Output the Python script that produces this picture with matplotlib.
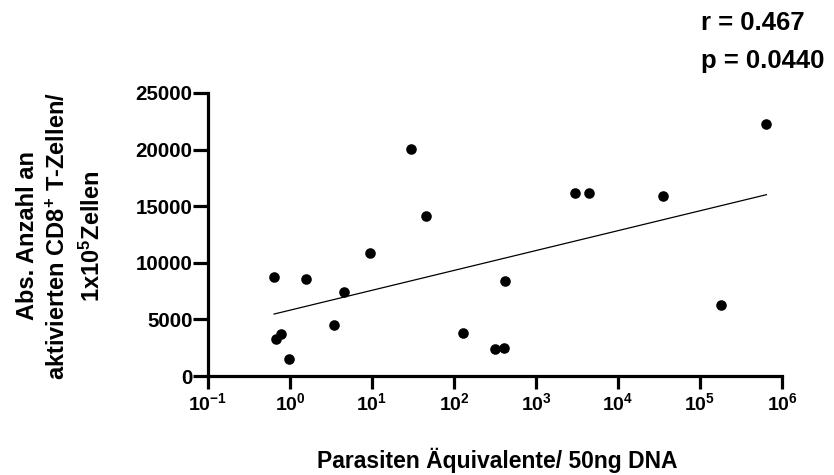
import numpy as np
import matplotlib
matplotlib.use("Agg")
import matplotlib.pyplot as plt

plt.rcParams['font.family'] = ['Liberation Sans', 'DejaVu Sans']
plt.rcParams['font.weight'] = 'bold'
plt.rcParams['mathtext.fontset'] = 'custom'
plt.rcParams['mathtext.rm'] = 'Liberation Sans:bold'
plt.rcParams['mathtext.bf'] = 'Liberation Sans:bold'
plt.rcParams['mathtext.it'] = 'Liberation Sans:bold'

# Data (parasite equivalents per 50ng DNA vs. activated CD8+ T cells)
parasites = [0.64, 0.67, 0.78, 0.98, 1.55, 3.4, 4.55, 9.5, 29.6, 46, 129, 318, 408,
             417, 2950, 4460, 35000, 178000, 646000]
cd8_cells = [8770, 3240, 3680, 1470, 8600, 4500, 7390, 10870, 20030, 14160, 3770,
             2360, 2500, 8420, 16140, 16190, 15870, 6240, 22260]

xticks = [1e-1, 1e0, 1e1, 1e2, 1e3, 1e4, 1e5, 1e6]
xticklabels = [r'$10^{-1}$', r'$10^{0}$', r'$10^{1}$', r'$10^{2}$', r'$10^{3}$',
               r'$10^{4}$', r'$10^{5}$', r'$10^{6}$']
yticks = [0, 5000, 10000, 15000, 20000, 25000]
stats_text = ["r = 0.467", "p = 0.0440"]

fig = plt.figure(figsize=(8.34, 4.75), dpi=100)
ax = fig.add_axes([208/834, 99/475, 574/834, 283/475])

x = np.array(parasites)
y = np.array(cd8_cells)
ax.scatter(x, y, s=58, color='black', zorder=3, linewidths=0)

# linear regression on log10(x)
lx = np.log10(x)
slope, intercept = np.polyfit(lx, y, 1)
xl = np.array([x.min(), x.max()])
ax.plot(xl, slope*np.log10(xl) + intercept, color='black', lw=0.9)

ax.set_xscale('log')
ax.set_xlim(1e-1, 1e6)
ax.set_ylim(0, 25000)
ax.set_xticks(xticks)
ax.set_xticklabels(xticklabels)
ax.minorticks_off()
ax.set_yticks(yticks)
ax.set_yticklabels([str(v) for v in yticks])

for s in ['top', 'right']:
    ax.spines[s].set_visible(False)
for s in ['left', 'bottom']:
    ax.spines[s].set_linewidth(2.3)
ax.tick_params(axis='y', which='major', width=2.3, length=10.5, pad=0.5, labelsize=14.8)
ax.tick_params(axis='x', which='major', width=2.3, length=9.5, pad=2, labelsize=14)
for lab in ax.get_yticklabels():
    lab.set_fontweight('bold')

fig.text(497/834, 1 - 468/475, 'Parasiten Äquivalente/ 50ng DNA', fontsize=16.5,
         fontweight='bold', ha='center', va='baseline')
fig.text(60/834, 1 - 236/475,
         'Abs. Anzahl an\naktivierten CD8$^{+}$ T-Zellen/\n1x10$^{5}$Zellen',
         fontsize=17, fontweight='bold', rotation=90, ha='center', va='center',
         multialignment='center', linespacing=1.45)

fig.text(701/834, 1 - 30/475, stats_text[0], fontsize=18.5, fontweight='bold', va='baseline', ha='left')
fig.text(701/834, 1 - 68/475, stats_text[1], fontsize=18.5, fontweight='bold', va='baseline', ha='left')

fig.savefig('out.png', dpi=100)
